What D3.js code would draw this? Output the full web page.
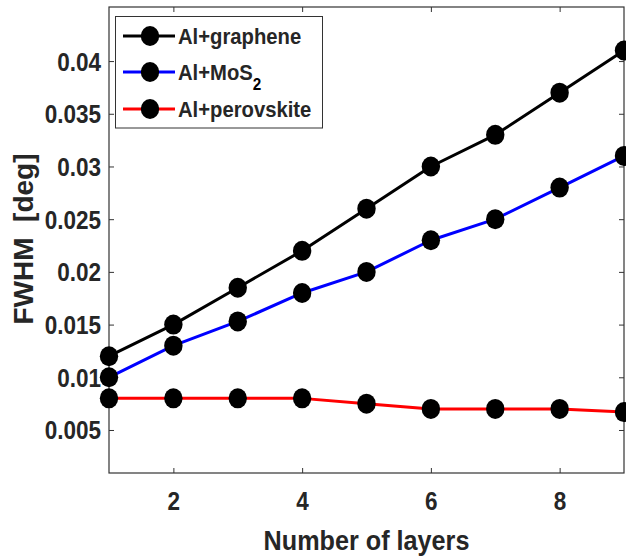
<!DOCTYPE html>
<html>
<head>
<meta charset="utf-8">
<script src="https://cdn.jsdelivr.net/npm/d3@7"></script>
<style>
  html, body { margin: 0; padding: 0; background: #fff; }
  svg { display: block; }
  text { font-family: "Liberation Sans", Arial, Helvetica, sans-serif; font-weight: bold; fill: #262626; }
</style>
</head>
<body>
<svg id="chart" width="626" height="558"></svg>
<script>
// Number of layers on the x axis
const layers = [1, 2, 3, 4, 5, 6, 7, 8, 9];

// FWHM values [deg] for each structure
const graphene   = [0.012, 0.015, 0.0185, 0.022, 0.026, 0.030, 0.033, 0.037, 0.041];
const mos2       = [0.010, 0.013, 0.0153, 0.018, 0.020, 0.023, 0.025, 0.028, 0.031];
const perovskite = [0.008, 0.008, 0.008, 0.008, 0.0075, 0.007, 0.007, 0.007, 0.0067];

const seriesNames  = ["Al+graphene", "Al+MoS", "Al+perovskite"];
const seriesColors = ["#000000", "#0000ff", "#ff0000"];

const xTicks = [2, 4, 6, 8];
const yTicks = [0.005, 0.01, 0.015, 0.02, 0.025, 0.03, 0.035, 0.04];
const yTickLabels = ["0.005", "0.01", "0.015", "0.02", "0.025", "0.03", "0.035", "0.04"];

const svg = d3.select("#chart");
const plotL = 109, plotR = 624, plotT = 7, plotB = 473;
const SX = 0.9; // horizontal squeeze of the lettering

const x = d3.scaleLinear().domain([1, 9]).range([plotL, plotR]);
const y = d3.scaleLinear().domain([0.00092, 0.04513]).range([plotB, plotT]);

const axisColor = "#333";

// axes box
svg.append("rect")
  .attr("x", plotL).attr("y", plotT)
  .attr("width", plotR - plotL).attr("height", plotB - plotT)
  .attr("fill", "none").attr("stroke", axisColor).attr("stroke-width", 1.2);

function styleAxis(g) {
  g.select(".domain").remove();
  g.selectAll(".tick line").attr("stroke", axisColor).attr("stroke-width", 1);
}

// bottom axis with labels
const gx = svg.append("g").attr("transform", `translate(0,${plotB})`)
  .call(d3.axisBottom(x).tickValues(xTicks).tickFormat(d3.format("d"))
        .tickSizeInner(-5).tickSizeOuter(0).tickPadding(0));
styleAxis(gx);
gx.selectAll(".tick text")
  .attr("y", 37).attr("dy", null)
  .attr("font-size", 25).attr("fill", "#262626")
  .attr("transform", `scale(${SX},1)`);

// top axis ticks only
const gxt = svg.append("g").attr("transform", `translate(0,${plotT})`)
  .call(d3.axisTop(x).tickValues(xTicks).tickFormat("").tickSizeInner(-5).tickSizeOuter(0));
styleAxis(gxt);

// left axis with labels
const gy = svg.append("g").attr("transform", `translate(${plotL},0)`)
  .call(d3.axisLeft(y).tickValues(yTicks).tickFormat((d, i) => yTickLabels[i])
        .tickSizeInner(-5).tickSizeOuter(0).tickPadding(0));
styleAxis(gy);
gy.selectAll(".tick text")
  .attr("x", -8 / SX).attr("dy", "0.36em")
  .attr("font-size", 25).attr("fill", "#262626")
  .attr("text-anchor", "end")
  .attr("transform", `scale(${SX},1)`);

// right axis ticks only
const gyr = svg.append("g").attr("transform", `translate(${plotR},0)`)
  .call(d3.axisRight(y).tickValues(yTicks).tickFormat("").tickSizeInner(-5).tickSizeOuter(0));
styleAxis(gyr);

// axis titles
svg.append("text")
  .attr("transform", `translate(${(plotL + plotR) / 2},550) scale(${SX},1)`)
  .attr("text-anchor", "middle").attr("font-size", 28)
  .text("Number of layers");

svg.append("text")
  .attr("transform", `translate(33,239) rotate(-90)`)
  .attr("text-anchor", "middle").attr("font-size", 28)
  .style("white-space", "pre")
  .text("FWHM  [deg]");

// data series
const allSeries = [graphene, mos2, perovskite];
const line = d3.line().x((d, i) => x(layers[i])).y(d => y(d));

allSeries.forEach((vals, s) => {
  const g = svg.append("g");
  g.append("path")
    .attr("d", line(vals))
    .attr("fill", "none")
    .attr("stroke", seriesColors[s])
    .attr("stroke-width", 3)
    .attr("stroke-linejoin", "round");
  g.selectAll("ellipse").data(vals).join("ellipse")
    .attr("cx", (d, i) => x(layers[i]))
    .attr("cy", d => y(d))
    .attr("rx", 9.2).attr("ry", 10)
    .attr("fill", "#000");
});

// legend
const lg = svg.append("g");
lg.append("rect")
  .attr("x", 115.5).attr("y", 16.5).attr("width", 207).attr("height", 111.5)
  .attr("fill", "#fff").attr("stroke", "#333").attr("stroke-width", 1);

const rowY = [36, 72, 109];
seriesNames.forEach((name, s) => {
  lg.append("line")
    .attr("x1", 123).attr("x2", 175).attr("y1", rowY[s]).attr("y2", rowY[s])
    .attr("stroke", seriesColors[s]).attr("stroke-width", 3);
  lg.append("ellipse")
    .attr("cx", 150).attr("cy", rowY[s]).attr("rx", 9.2).attr("ry", 10).attr("fill", "#000");
  const t = lg.append("text")
    .attr("transform", `translate(178,${rowY[s] + 8}) scale(${SX},1)`)
    .attr("font-size", 22.5)
    .attr("fill", "#000")
    .text(name);
  if (name === "Al+MoS") {
    t.append("tspan").attr("dy", 10).attr("font-size", 17).attr("fill", "#000").text("2");
  }
});
</script>
</body>
</html>
